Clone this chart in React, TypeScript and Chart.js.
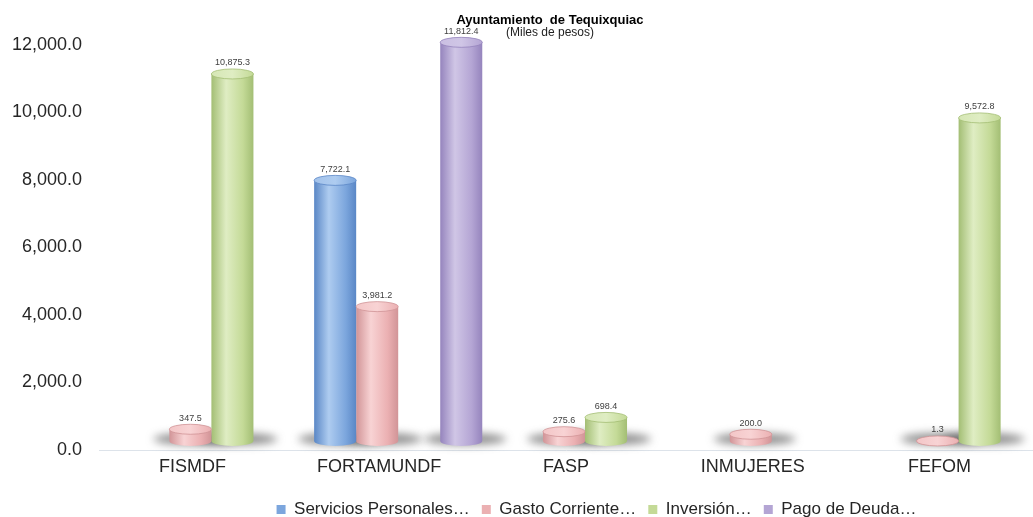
import React, { useEffect, useRef } from "react";
import { Chart, registerables } from "chart.js";

Chart.register(...registerables);

const categories = ["FISMDF", "FORTAMUNDF", "FASP", "INMUJERES", "FEFOM"];
const seriesNames = ["Servicios Personales…", "Gasto Corriente…", "Inversión…", "Pago de Deuda…"];
const serviciosPersonales = [null, 7722.1, null, null, null];
const gastoCorriente = [347.5, 3981.2, 275.6, 200.0, 1.3];
const inversion = [10875.3, null, 698.4, null, 9572.8];
const pagoDeuda = [null, 11812.4, null, null, null];
const yTicks = [0, 2000, 4000, 6000, 8000, 10000, 12000];

const titleText = "Ayuntamiento  de Tequixquiac";
const subtitleText = "(Miles de pesos)";

const baseColors = ["#7CA6DD", "#EBB0B2", "#C4DA97", "#B4A5D4"];
const darkColors = ["#5A87C6", "#D19497", "#A3BE74", "#9584BD"];
const lightColors = ["#AECCF0", "#F8D3D4", "#DFEDC3", "#D0C6E6"];
const topColors = ["#A3C2EA", "#F3C6C7", "#D6E7B5", "#CABFE2"];

const FONT = '"Liberation Sans", Arial, sans-serif';
const DX = 19;
const DY = -9;
const RY = 5;

const fmt = (v: number) =>
  v.toLocaleString("en-US", { minimumFractionDigits: 1, maximumFractionDigits: 1 });

const cylinderPlugin = {
  id: "cylinder",
  afterLayout(chart: any) {
    const lg = chart.legend;
    if (lg) {
      const dx = 80;
      const dy = 11;
      lg.left += dx;
      lg.right += dx;
      lg.top += dy;
      lg.bottom += dy;
    }
  },
  beforeDatasetsDraw(chart: any) {
    const ctx = chart.ctx;
    ctx.save();
    ctx.translate(DX, DY);
    chart.data.datasets.forEach((ds: any, di: number) => {
      const meta = chart.getDatasetMeta(di);
      meta.data.forEach((el: any, i: number) => {
        if (ds.data[i] == null) return;
        const { x, base, width } = el;
        ctx.save();
        ctx.filter = "blur(4px)";
        ctx.fillStyle = "rgba(70,70,70,0.6)";
        ctx.beginPath();
        ctx.ellipse(x + 4, base - 2, width / 2 + 20, 6, 0, 0, Math.PI * 2);
        ctx.fill();
        ctx.restore();
        const g = ctx.createLinearGradient(x - width / 2, 0, x + width / 2, 0);
        g.addColorStop(0, darkColors[di]);
        g.addColorStop(0.35, lightColors[di]);
        g.addColorStop(0.75, baseColors[di]);
        g.addColorStop(1, darkColors[di]);
        el.options = Object.assign({}, el.options, { backgroundColor: g });
      });
    });
  },
  afterDatasetsDraw(chart: any) {
    const ctx = chart.ctx;
    chart.data.datasets.forEach((ds: any, di: number) => {
      const meta = chart.getDatasetMeta(di);
      meta.data.forEach((el: any, i: number) => {
        if (ds.data[i] == null) return;
        const { x, y, base, width } = el;
        const g = el.options.backgroundColor;
        ctx.fillStyle = g;
        ctx.beginPath();
        ctx.ellipse(x, base, width / 2, RY, 0, 0, Math.PI);
        ctx.fill();
        const tg = ctx.createLinearGradient(x - width / 2, 0, x + width / 2, 0);
        tg.addColorStop(0, topColors[di]);
        tg.addColorStop(0.5, lightColors[di]);
        tg.addColorStop(1, baseColors[di]);
        ctx.fillStyle = tg;
        ctx.strokeStyle = darkColors[di];
        ctx.lineWidth = 0.8;
        ctx.beginPath();
        ctx.ellipse(x, y, width / 2, RY, 0, 0, Math.PI * 2);
        ctx.fill();
        ctx.stroke();
      });
    });
    ctx.fillStyle = "#404040";
    ctx.font = `9px ${FONT}`;
    ctx.textAlign = "center";
    ctx.textBaseline = "middle";
    chart.data.datasets.forEach((ds: any, di: number) => {
      const meta = chart.getDatasetMeta(di);
      meta.data.forEach((el: any, i: number) => {
        const v = ds.data[i];
        if (v == null) return;
        ctx.fillText(fmt(v), el.x, el.y - RY - 6);
      });
    });
    ctx.restore();
  },
  afterDraw(chart: any) {
    const ctx = chart.ctx;
    ctx.save();
    ctx.fillStyle = "#000";
    ctx.textAlign = "center";
    ctx.textBaseline = "middle";
    ctx.font = `bold 13px ${FONT}`;
    ctx.fillText(titleText, 550, 20);
    ctx.fillStyle = "#222";
    ctx.font = `12px ${FONT}`;
    ctx.fillText(subtitleText, 550, 33);
    ctx.restore();
  },
};

const seriesData = [serviciosPersonales, gastoCorriente, inversion, pagoDeuda];

export default function App() {
  const ref = useRef<HTMLCanvasElement | null>(null);
  useEffect(() => {
    if (!ref.current) return;
    const chart = new Chart(ref.current, {
      type: "bar",
      data: {
        labels: categories,
        datasets: seriesData.map((d, i) => ({
          label: seriesNames[i],
          data: d,
          backgroundColor: (() => baseColors[i]) as any,
          borderWidth: 0,
          categoryPercentage: 0.9,
          barPercentage: 1.0,
          clip: false as any,
        })),
      },
      options: {
        animation: false,
        responsive: true,
        maintainAspectRatio: false,
        layout: { padding: { top: 45, right: 0, left: 0, bottom: 0 } },
        plugins: {
          title: { display: false },
          tooltip: { enabled: false },
          legend: {
            position: "bottom",
            labels: {
              boxWidth: 9,
              boxHeight: 9,
              padding: 12,
              color: "#262626",
              font: { family: FONT, size: 17 },
              generateLabels: (ch: any) =>
                ch.data.datasets.map((ds: any, i: number) => ({
                  text: ds.label,
                  fillStyle: baseColors[i],
                  strokeStyle: baseColors[i],
                  lineWidth: 0,
                  hidden: false,
                  datasetIndex: i,
                  fontColor: "#262626",
                })),
            },
          },
        },
        scales: {
          x: {
            afterFit: (s: any) => {
              s.height = 28;
            },
            grid: { display: false, drawTicks: false },
            border: { display: true, color: "#DDE3EA", width: 1 },
            ticks: {
              color: "#262626",
              font: { family: FONT, size: 18 },
              padding: 6,
              maxRotation: 0,
              autoSkip: false,
            },
          },
          y: {
            min: 0,
            max: 12000,
            afterFit: (s: any) => {
              s.width = 99;
            },
            afterBuildTicks: (s: any) => {
              s.ticks = yTicks.map((v) => ({ value: v }));
            },
            grid: { display: false, drawTicks: false },
            border: { display: false },
            ticks: {
              color: "#262626",
              font: { family: FONT, size: 18 },
              padding: 17,
              callback: (v: any) => fmt(Number(v)),
            },
          },
        },
      },
      plugins: [cylinderPlugin],
    });
    return () => chart.destroy();
  }, []);
  return (
    <div style={{ position: "fixed", left: 0, top: 0, width: 1033, height: 517 }}>
      <canvas ref={ref} />
    </div>
  );
}
